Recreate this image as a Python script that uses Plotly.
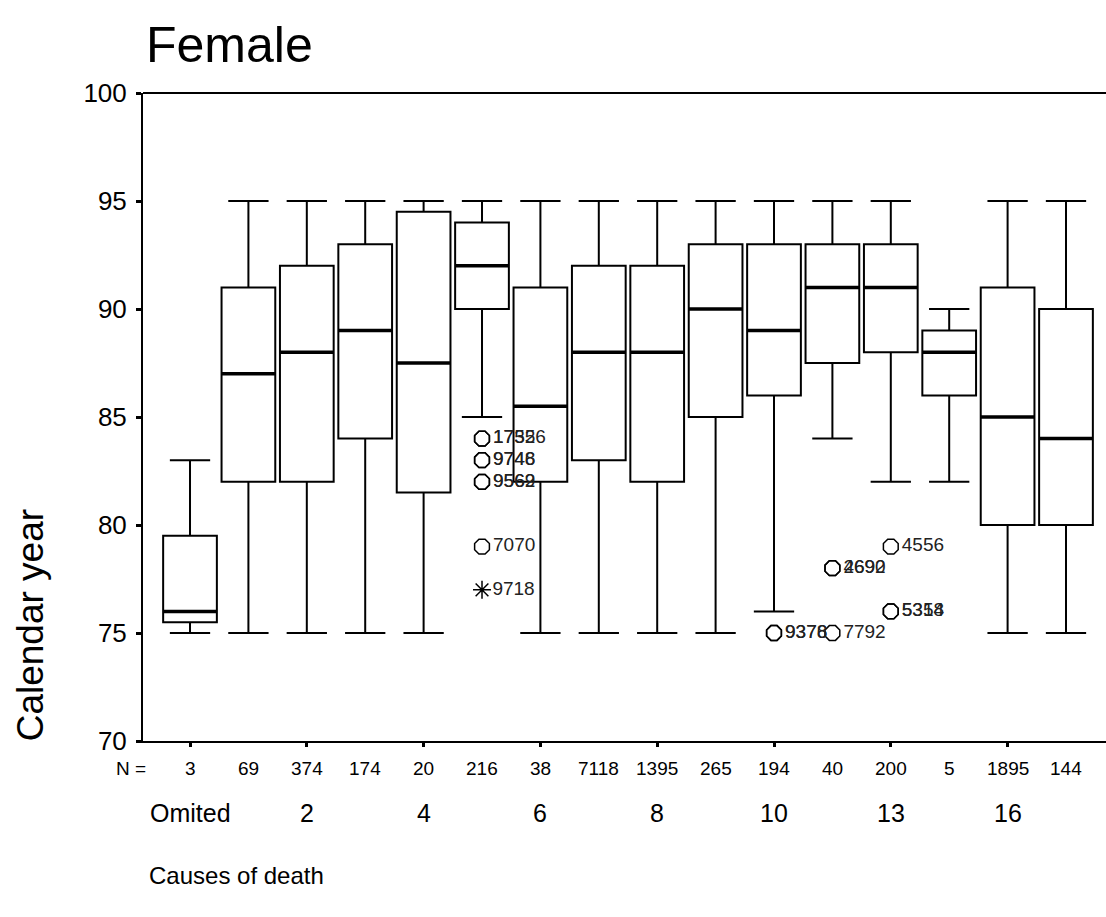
import plotly.graph_objects as go

# ---- data ----
n_labels = ["3", "69", "374", "174", "20", "216", "38", "7118", "1395", "265", "194", "40", "200", "5", "1895", "144"]
cat_labels = ["Omited", "", "2", "", "4", "", "6", "", "8", "", "10", "", "13", "", "16", ""]
lower = [75, 75, 75, 75, 75, 85, 75, 75, 75, 75, 76, 84, 82, 82, 75, 75]
q1 = [75.5, 82, 82, 84, 81.5, 90, 82, 83, 82, 85, 86, 87.5, 88, 86, 80, 80]
median = [76, 87, 88, 89, 87.5, 92, 85.5, 88, 88, 90, 89, 91, 91, 88, 85, 84]
q3 = [79.5, 91, 92, 93, 94.5, 94, 91, 92, 92, 93, 93, 93, 93, 89, 91, 90]
upper = [83, 95, 95, 95, 95, 95, 95, 95, 95, 95, 95, 95, 95, 90, 95, 95]

out_cat = [5, 5, 5, 5, 5, 5, 5, 10, 10, 11, 11, 11, 12, 12, 12]
out_val = [84, 84, 83, 83, 82, 82, 79, 75, 75, 78, 78, 75, 79, 76, 76]
out_lab = ["1755", "17326", "9746", "9748", "9562", "9569", "7070", "9376", "9378",
           "2692", "4690", "7792", "4556", "5354", "5318"]

ext_cat = [5]
ext_val = [77]
ext_lab = ["9718"]

FONT = "Liberation Sans, Arial, sans-serif"
xs = list(range(len(n_labels)))
BW = 0.92

fig = go.Figure()
fig.add_trace(go.Box(
    x=xs, q1=q1, median=median, q3=q3, lowerfence=lower, upperfence=upper,
    width=BW, whiskerwidth=0.75, fillcolor="white",
    line=dict(color="black", width=2), boxpoints=False, showlegend=False,
))

# thicker median lines
mx, my = [], []
for i, m in zip(xs, median):
    mx += [i - BW / 2, i + BW / 2, None]
    my += [m, m, None]
fig.add_trace(go.Scatter(x=mx, y=my, mode="lines", line=dict(color="black", width=3.5),
                         showlegend=False, hoverinfo="skip"))

fig.add_trace(go.Scatter(
    x=out_cat, y=out_val, mode="markers+text", text=out_lab, textposition="middle right",
    marker=dict(symbol="octagon-open", size=16, color="black", line=dict(width=1.5)),
    textfont=dict(family=FONT, size=19, color="#222"), showlegend=False,
))
fig.add_trace(go.Scatter(
    x=ext_cat, y=ext_val, mode="markers+text", text=ext_lab, textposition="middle right",
    marker=dict(symbol="asterisk-open", size=15, color="black", line=dict(width=1.5, color="black")),
    textfont=dict(family=FONT, size=19, color="#222"), showlegend=False,
))

ann = []
for i, t in zip(xs, n_labels):
    ann.append(dict(x=i, y=0, xref="x", yref="paper", yshift=-27, text=t, showarrow=False,
                    xanchor="center", yanchor="middle", font=dict(family=FONT, size=19, color="black")))
for i, t in zip(xs, cat_labels):
    if t:
        ann.append(dict(x=i, y=0, xref="x", yref="paper", yshift=-72, text=t, showarrow=False,
                        xanchor="center", yanchor="middle", font=dict(family=FONT, size=25, color="black")))
ann.append(dict(x=-0.0125, y=0, xref="paper", yref="paper", yshift=-27, text="N =", showarrow=False,
                xanchor="center", yanchor="middle", font=dict(family=FONT, size=19, color="black")))
ann.append(dict(x=0.004, y=0, xref="paper", yref="paper", yshift=-134, text="Causes of death",
                showarrow=False, xanchor="left", yanchor="middle",
                font=dict(family=FONT, size=24, color="black")))
ann.append(dict(x=-0.117, y=0.179, xref="paper", yref="paper", text="Calendar year", textangle=-90,
                showarrow=False, xanchor="center", yanchor="middle",
                font=dict(family=FONT, size=37, color="black")))

fig.update_layout(
    width=1106, height=917,
    margin=dict(l=143, r=0, t=93, b=176),
    paper_bgcolor="white", plot_bgcolor="white",
    title=dict(text="Female", x=146 / 1106, xanchor="left", xref="container",
               y=1 - 44 / 917, yanchor="middle", font=dict(family=FONT, size=50, color="black")),
    annotations=ann,
    shapes=[dict(type="line", xref="paper", yref="paper", x0=0, x1=1, y0=1, y1=1,
                 line=dict(color="black", width=2))],
    xaxis=dict(range=[-0.805, 15.685], tickvals=xs[::2], ticktext=[""] * 8, ticks="outside",
               ticklen=4, tickwidth=3, tickcolor="black", showline=True, linecolor="black",
               linewidth=2, showgrid=False, zeroline=False, fixedrange=True),
    yaxis=dict(range=[70, 100], tickvals=[70, 75, 80, 85, 90, 95, 100], ticks="outside",
               ticklen=5, tickwidth=3, tickcolor="black", showline=True, linecolor="black",
               linewidth=2, showgrid=False, zeroline=False, ticklabelstandoff=4,
               tickfont=dict(family=FONT, size=26, color="black")),
)

fig.write_html("out.html")
